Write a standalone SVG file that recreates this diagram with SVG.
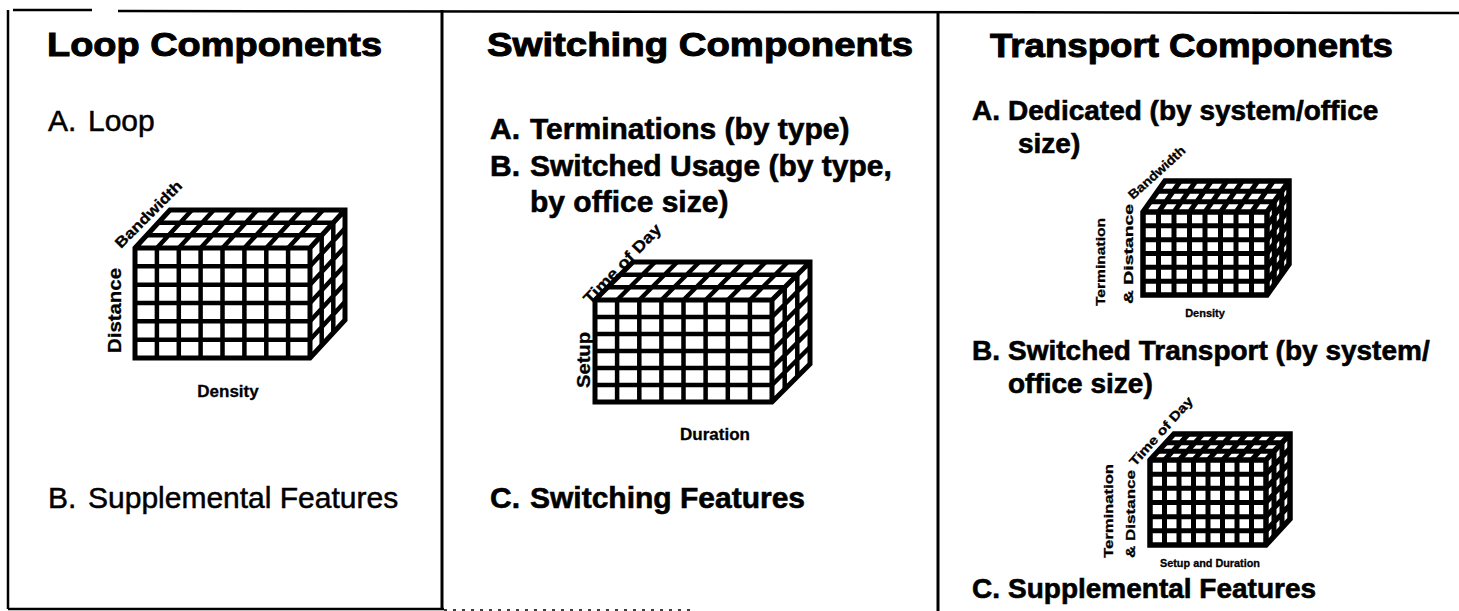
<svg xmlns="http://www.w3.org/2000/svg" width="1459" height="611" viewBox="0 0 1459 611">
<style>
text{font-family:"Liberation Sans",Arial,Helvetica,sans-serif;fill:#000}
.h{font-size:34px;font-weight:bold;stroke:#000;stroke-width:1}
.it{font-size:30px;font-weight:bold;stroke:#000;stroke-width:0.6}
.itr{font-size:28px;font-weight:bold;stroke:#000;stroke-width:0.6}
.itn{font-size:30px;font-weight:normal;stroke:#000;stroke-width:0.5}
.lb{font-weight:bold;stroke:#000;stroke-width:0.3}
.frame{stroke:#000;fill:none}
.g{fill:none;stroke:#000;stroke-width:4.5}
.o{fill:none;stroke:#000;stroke-width:5;stroke-linejoin:miter}
.gs{fill:none;stroke:#000;stroke-width:5}
.os{fill:none;stroke:#000;stroke-width:5.5;stroke-linejoin:miter}
</style>
<rect width="1459" height="611" fill="#fff"/>
<g id="frame">
<path class="frame" stroke-width="2.5" d="M13 10H92M118 11L1459 13"/>
<path class="frame" stroke-width="2.5" d="M8 10V609"/>
<path class="frame" stroke-width="3" d="M442 10V610"/>
<path class="frame" stroke-width="3" d="M938 12V611"/>
<path class="frame" stroke-width="2.5" d="M8 609H444"/>
<path class="frame" stroke-width="1.5" stroke="#666" stroke-dasharray="3 6" d="M444 610H690"/>
</g>

<g id="loop-panel">
<text class="h" x="47" y="56" textLength="335" lengthAdjust="spacingAndGlyphs">Loop Components</text>
<text class="itn" x="48" y="131">A.</text>
<text class="itn" x="88" y="131">Loop</text>
<text class="itn" x="48" y="508">B.</text>
<text class="itn" x="88" y="508">Supplemental Features</text>
</g>

<g id="loop-cube">
<path class="g" d="M156.9 248V358M178.8 248V358M200.6 248V358M222.5 248V358M244.4 248V358M266.3 248V358M288.1 248V358M135 266.3H310M135 284.7H310M135 303H310M135 321.3H310M135 339.7H310"/>
<path class="g" d="M156.9 248l35 -38M178.8 248l35 -38M200.6 248l35 -38M222.5 248l35 -38M244.4 248l35 -38M266.3 248l35 -38M288.1 248l35 -38M146.7 235.3H321.7M158.3 222.7H333.3"/>
<path class="g" d="M310 266.3l35 -38M310 284.7l35 -38M310 303l35 -38M310 321.3l35 -38M310 339.7l35 -38M321.7 235.3V345.3M333.3 222.7V332.7"/>
<path class="o" d="M135 248L170 210H345V320L310 358H135ZM135 248H310V358M310 248L345 210"/>
<text class="lb" font-size="19" transform="translate(121,353) rotate(-90)" textLength="85" lengthAdjust="spacingAndGlyphs">Distance</text>
<text class="lb" font-size="15" transform="translate(121,249) rotate(-45)" textLength="88" lengthAdjust="spacingAndGlyphs">Bandwidth</text>
<text class="lb" font-size="17" x="228" y="397" text-anchor="middle">Density</text>
</g>

<g id="switching-panel">
<text class="h" x="487" y="56" textLength="426" lengthAdjust="spacingAndGlyphs">Switching Components</text>
<text class="it" x="490" y="139">A.</text>
<text class="it" x="530" y="139">Terminations (by type)</text>
<text class="it" x="490" y="176">B.</text>
<text class="it" x="530" y="176">Switched Usage (by type,</text>
<text class="it" x="530" y="212">by office size)</text>
<text class="it" x="490" y="508">C.</text>
<text class="it" x="530" y="508">Switching Features</text>
</g>

<g id="switching-cube">
<path class="g" d="M617.1 300V402M639.3 300V402M661.4 300V402M683.5 300V402M705.6 300V402M727.8 300V402M749.9 300V402M595 317H772M595 334H772M595 351H772M595 368H772M595 385H772"/>
<path class="g" d="M617.1 300l38 -38M639.3 300l38 -38M661.4 300l38 -38M683.5 300l38 -38M705.6 300l38 -38M727.8 300l38 -38M749.9 300l38 -38M607.7 287.3H784.7M620.3 274.7H797.3"/>
<path class="g" d="M772 317l38 -38M772 334l38 -38M772 351l38 -38M772 368l38 -38M772 385l38 -38M784.7 287.3V389.3M797.3 274.7V376.7"/>
<path class="o" d="M595 300L633 262H810V364L772 402H595ZM595 300H772V402M772 300L810 262"/>
<text class="lb" font-size="18" transform="translate(590,388) rotate(-90)" textLength="56" lengthAdjust="spacingAndGlyphs">Setup</text>
<text class="lb" font-size="16" transform="translate(590,305) rotate(-46)" textLength="104" lengthAdjust="spacingAndGlyphs">Time of Day</text>
<text class="lb" font-size="17" x="715" y="440" text-anchor="middle">Duration</text>
</g>

<g id="transport-panel">
<text class="h" x="990" y="57" textLength="403" lengthAdjust="spacingAndGlyphs">Transport Components</text>
<text class="itr" x="972" y="120">A.</text>
<text class="itr" x="1008" y="120">Dedicated (by system/office</text>
<text class="itr" x="1018" y="153">size)</text>
<text class="itr" x="972" y="360">B.</text>
<text class="itr" x="1008" y="360">Switched Transport (by system/</text>
<text class="itr" x="1008" y="393">office size)</text>
<text class="itr" x="972" y="598">C.</text>
<text class="itr" x="1008" y="598">Supplemental Features</text>
</g>

<g id="dedicated-cube">
<path class="gs" d="M1158.5 212V295M1174 212V295M1189.5 212V295M1205 212V295M1220.5 212V295M1236 212V295M1251.5 212V295M1143 225.8H1267M1143 239.7H1267M1143 253.5H1267M1143 267.3H1267M1143 281.2H1267"/>
<path class="gs" d="M1158.5 212l22 -31M1174 212l22 -31M1189.5 212l22 -31M1205 212l22 -31M1220.5 212l22 -31M1236 212l22 -31M1251.5 212l22 -31M1150.3 201.7H1274.3M1157.7 191.3H1281.7"/>
<path class="gs" d="M1267 225.8l22 -31M1267 239.7l22 -31M1267 253.5l22 -31M1267 267.3l22 -31M1267 281.2l22 -31M1274.3 201.7V284.7M1281.7 191.3V274.3"/>
<path class="os" d="M1143 212L1165 181H1289V264L1267 295H1143ZM1143 212H1267V295M1267 212L1289 181"/>
<text class="lb" font-size="13" transform="translate(1105,306) rotate(-90)" textLength="88" lengthAdjust="spacingAndGlyphs">Termination</text>
<text class="lb" font-size="13" transform="translate(1133,304) rotate(-90)" textLength="100" lengthAdjust="spacingAndGlyphs">&amp; Distance</text>
<text class="lb" font-size="13" transform="translate(1133,200) rotate(-42)" textLength="72" lengthAdjust="spacingAndGlyphs">Bandwidth</text>
<text class="lb" font-size="11" x="1205" y="317" text-anchor="middle">Density</text>
</g>

<g id="switched-transport-cube">
<path class="gs" d="M1164.5 460V545M1179 460V545M1193.5 460V545M1208 460V545M1222.5 460V545M1237 460V545M1251.5 460V545M1150 474.2H1266M1150 488.3H1266M1150 502.5H1266M1150 516.7H1266M1150 530.8H1266"/>
<path class="gs" d="M1164.5 460l24 -26M1179 460l24 -26M1193.5 460l24 -26M1208 460l24 -26M1222.5 460l24 -26M1237 460l24 -26M1251.5 460l24 -26M1158 451.3H1274M1166 442.7H1282"/>
<path class="gs" d="M1266 474.2l24 -26M1266 488.3l24 -26M1266 502.5l24 -26M1266 516.7l24 -26M1266 530.8l24 -26M1274 451.3V536.3M1282 442.7V527.7"/>
<path class="os" d="M1150 460L1174 434H1290V519L1266 545H1150ZM1150 460H1266V545M1266 460L1290 434"/>
<text class="lb" font-size="13" transform="translate(1113,558) rotate(-90)" textLength="94" lengthAdjust="spacingAndGlyphs">Termination</text>
<text class="lb" font-size="13" transform="translate(1135,558) rotate(-90)" textLength="88" lengthAdjust="spacingAndGlyphs">&amp; Distance</text>
<text class="lb" font-size="13" transform="translate(1135,467) rotate(-48)" textLength="88" lengthAdjust="spacingAndGlyphs">Time of Day</text>
<text class="lb" font-size="11" x="1210" y="567" text-anchor="middle" textLength="100" lengthAdjust="spacingAndGlyphs">Setup and Duration</text>
</g>
</svg>
